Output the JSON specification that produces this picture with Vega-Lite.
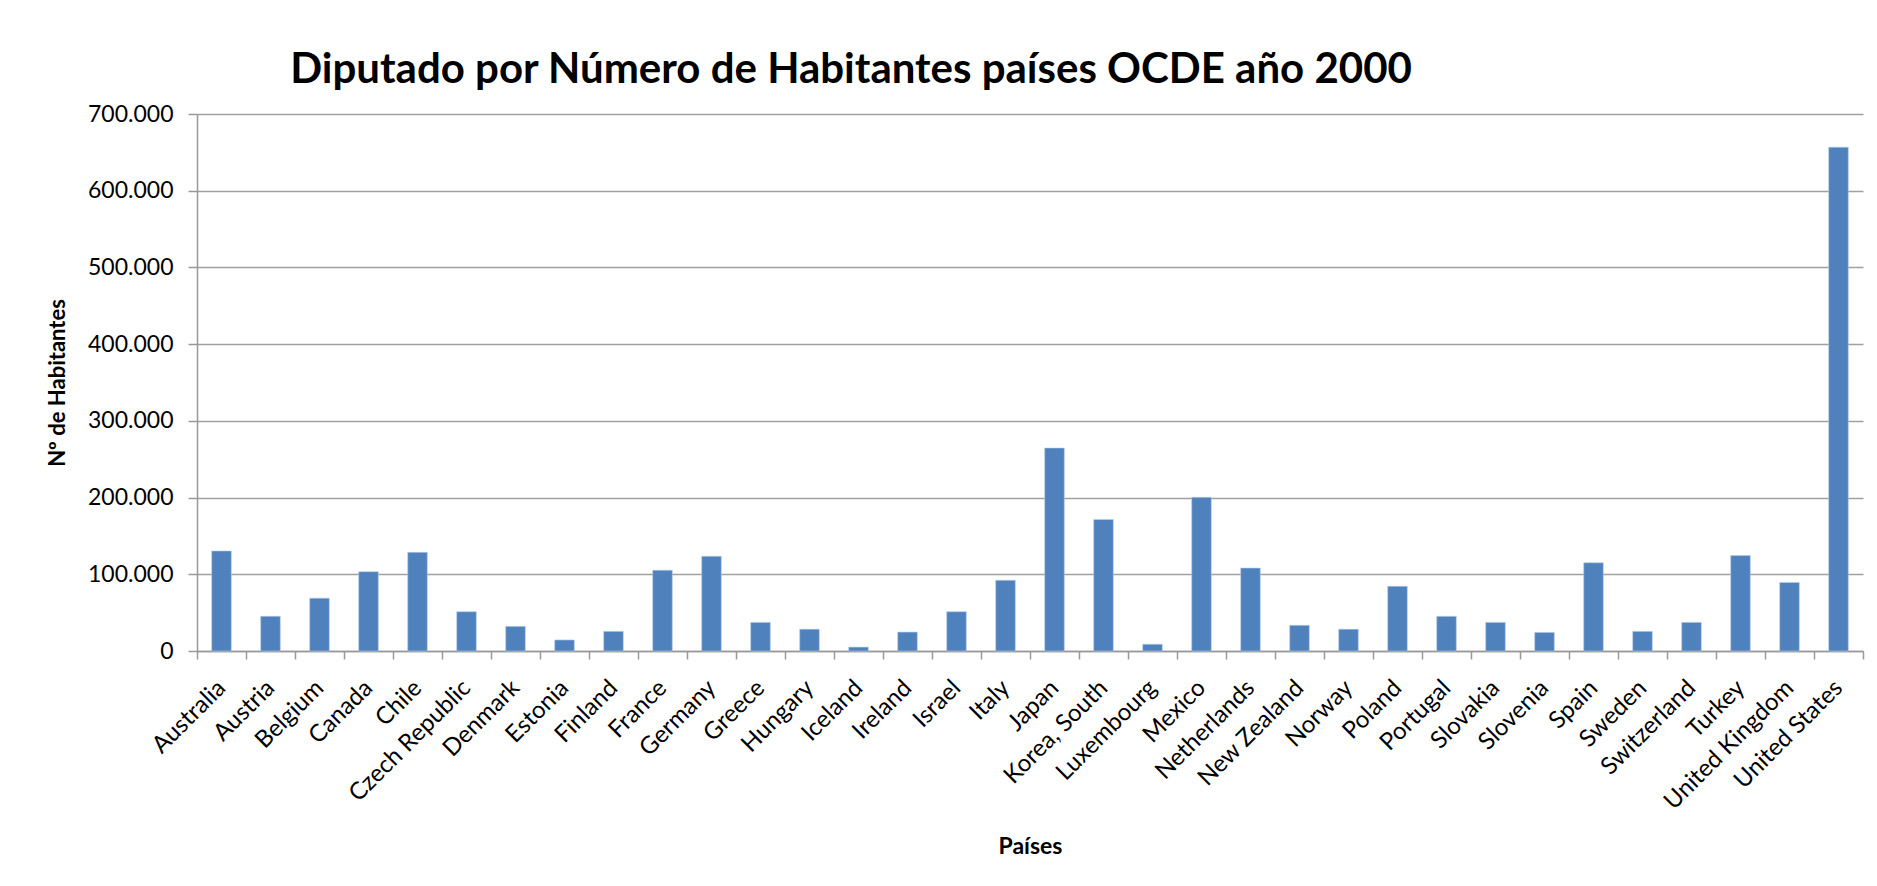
{
  "$schema": "https://vega.github.io/schema/vega-lite/v6.json",
  "autosize": {"type": "none"},
  "width": 1666,
  "height": 537,
  "padding": {"left": 197, "top": 114, "right": 14, "bottom": 235},
  "background": "white",
  "title": {
    "text": "Diputado por Número de Habitantes países OCDE año 2000",
    "font": "Lato",
    "fontSize": 42,
    "fontWeight": "bold",
    "color": "black",
    "anchor": "middle",
    "dx": -179,
    "baseline": "alphabetic",
    "offset": -22
  },
  "data": {
    "values": [
      {"pais": "Australia", "habitantes": 130400},
      {"pais": "Austria", "habitantes": 45200},
      {"pais": "Belgium", "habitantes": 68900},
      {"pais": "Canada", "habitantes": 103400},
      {"pais": "Chile", "habitantes": 128600},
      {"pais": "Czech Republic", "habitantes": 51200},
      {"pais": "Denmark", "habitantes": 32100},
      {"pais": "Estonia", "habitantes": 14400},
      {"pais": "Finland", "habitantes": 25600},
      {"pais": "France", "habitantes": 105300},
      {"pais": "Germany", "habitantes": 123400},
      {"pais": "Greece", "habitantes": 37300},
      {"pais": "Hungary", "habitantes": 28400},
      {"pais": "Iceland", "habitantes": 5100},
      {"pais": "Ireland", "habitantes": 24700},
      {"pais": "Israel", "habitantes": 51200},
      {"pais": "Italy", "habitantes": 92200},
      {"pais": "Japan", "habitantes": 264600},
      {"pais": "Korea, South", "habitantes": 171400},
      {"pais": "Luxembourg", "habitantes": 8800},
      {"pais": "Mexico", "habitantes": 200300},
      {"pais": "Netherlands", "habitantes": 108100},
      {"pais": "New Zealand", "habitantes": 33500},
      {"pais": "Norway", "habitantes": 28400},
      {"pais": "Poland", "habitantes": 84300},
      {"pais": "Portugal", "habitantes": 45200},
      {"pais": "Slovakia", "habitantes": 37300},
      {"pais": "Slovenia", "habitantes": 24200},
      {"pais": "Spain", "habitantes": 115000},
      {"pais": "Sweden", "habitantes": 25600},
      {"pais": "Switzerland", "habitantes": 37300},
      {"pais": "Turkey", "habitantes": 124400},
      {"pais": "United Kingdom", "habitantes": 89400},
      {"pais": "United States", "habitantes": 656700}
    ]
  },
  "mark": {"type": "bar", "width": {"band": 0.4}, "color": "#4F81BD", "stroke": "#B9CDE5", "strokeWidth": 0.6},
  "encoding": {
    "x": {
      "field": "pais",
      "type": "nominal",
      "sort": null,
      "scale": {"paddingInner": 0, "paddingOuter": 0},
      "axis": {
        "title": "Países",
        "titleFont": "Lato",
        "titleFontSize": 23,
        "titleFontWeight": "bold",
        "titleColor": "black",
        "titlePadding": 22,
        "labelAngle": -45,
        "labelAlign": "right",
        "labelBaseline": "middle",
        "labelFont": "Lato",
        "labelFontSize": 24,
        "labelColor": "black",
        "labelPadding": 25,
        "labelOverlap": false,
        "labelLimit": 400,
        "tickBand": "extent",
        "tickSize": 8,
        "tickColor": "#999999",
        "tickWidth": 1.5,
        "domainColor": "#999999",
        "domainWidth": 1.5,
        "grid": false
      }
    },
    "y": {
      "field": "habitantes",
      "type": "quantitative",
      "scale": {"domain": [0, 700000], "nice": false},
      "axis": {
        "title": "Nº de Habitantes",
        "titleFont": "Lato",
        "titleFontSize": 22,
        "titleFontWeight": "bold",
        "titleColor": "black",
        "titlePadding": 18,
        "values": [0, 100000, 200000, 300000, 400000, 500000, 600000, 700000],
        "labelExpr": "replace(format(datum.value, ','), regexp(',', 'g'), '.')",
        "labelFont": "Lato",
        "labelFontSize": 23,
        "labelColor": "black",
        "labelPadding": 15,
        "tickSize": 9,
        "tickColor": "#999999",
        "tickWidth": 1.5,
        "domainColor": "#999999",
        "domainWidth": 1.5,
        "grid": true,
        "gridColor": "#A0A0A0",
        "gridWidth": 1.5
      }
    }
  },
  "config": {"view": {"stroke": null}}
}
